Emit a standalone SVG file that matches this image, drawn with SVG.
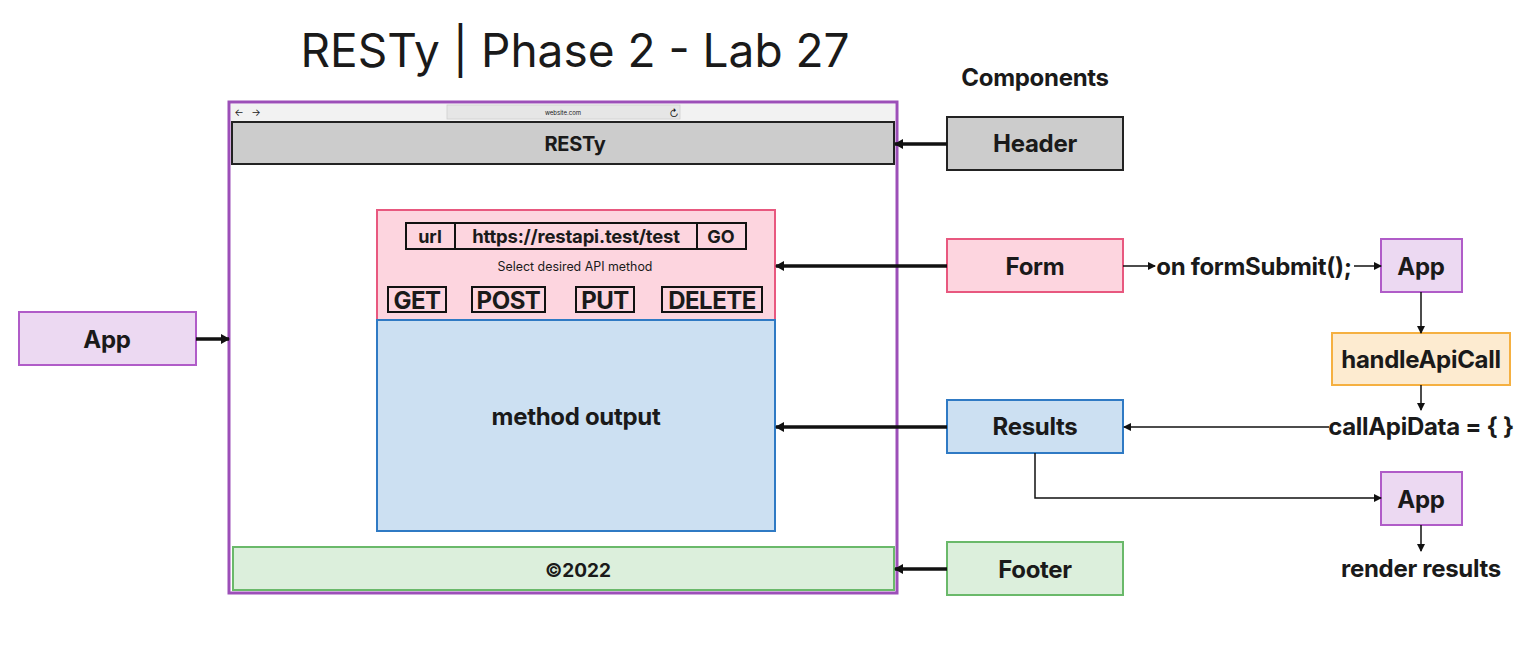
<svg xmlns="http://www.w3.org/2000/svg" width="1531" height="646" viewBox="0 0 1531 646">
<defs>
<style>
text{font-family:Inter,"Liberation Sans",sans-serif;fill:#1a1a1a;text-anchor:middle}
.b{font-weight:700}
.n{font-size:24px;font-weight:700;letter-spacing:-0.3px}
.node{stroke-width:2}
.gray{fill:#cccccc;stroke:#222}
.pink{fill:#fdd5df;stroke:#e8587f}
.blue{fill:#cce0f2;stroke:#2f7ac4}
.green{fill:#dcefdc;stroke:#6ab96a}
.purple{fill:#ecd9f2;stroke:#b05cc8}
.orange{fill:#fdebd0;stroke:#f5b041}
.box{fill:none;stroke:#111;stroke-width:2}
.thick{stroke:#111;stroke-width:3.5;fill:none}
.thin{stroke:#111;stroke-width:1.5;fill:none}
</style>
<marker id="ah" markerWidth="10" markerHeight="10" refX="8" refY="5" orient="auto" markerUnits="userSpaceOnUse"><path d="M0,0 L9,5 L0,10 Z" fill="#111"/></marker>
<marker id="as" markerWidth="9" markerHeight="9" refX="7" refY="4.5" orient="auto" markerUnits="userSpaceOnUse"><path d="M0,0.5 L8,4.5 L0,8.5 Z" fill="#111"/></marker>
</defs>
<rect width="1531" height="646" fill="#fff"/>
<text x="575" y="67" font-size="46">RESTy | Phase 2 - Lab 27</text>
<text x="1035" y="86" class="n" font-size="24">Components</text>

<g id="browser">
<rect x="229" y="102" width="668" height="491" fill="#fff" stroke="#9c4fb8" stroke-width="3"/>
<rect x="231" y="104" width="664" height="18" fill="#f2f2f2"/>
<rect x="447" y="105" width="233" height="14" fill="#e6e6e6" stroke="#cfcfcf" stroke-width="0.8"/>
<text x="563" y="115" font-size="6" fill="#777">website.com</text>
<text x="239" y="116" font-size="10" fill="#999">←</text>
<text x="256" y="116" font-size="10" fill="#999">→</text>
<text x="674" y="117" font-size="10" fill="#999">↻</text>
</g>
<g id="header-bar">
<rect x="232" y="122" width="662" height="42" class="node gray"/>
<text x="575" y="151" font-size="20" class="b" letter-spacing="-0.3">RESTy</text>
</g>
<g id="form-panel">
<rect x="377" y="210" width="398" height="110" class="node pink"/>
<rect x="406" y="223" width="49" height="26" class="box"/>
<rect x="455" y="223" width="242" height="26" class="box"/>
<rect x="697" y="223" width="49" height="26" class="box"/>
<text x="430" y="243" font-size="18" class="b">url</text>
<text x="576" y="243" font-size="18.5" class="b" letter-spacing="-0.2">https://restapi.test/test</text>
<text x="721" y="243" font-size="18" class="b">GO</text>
<text x="575" y="271" font-size="12.4">Select desired API method</text>
<rect x="388" y="287" width="58" height="25" class="box"/>
<rect x="472" y="287" width="73" height="25" class="box"/>
<rect x="576" y="287" width="58" height="25" class="box"/>
<rect x="662" y="287" width="100" height="25" class="box"/>
<text x="417" y="309" font-size="24" class="b" letter-spacing="-0.5">GET</text>
<text x="508.5" y="309" font-size="24" class="b" letter-spacing="-0.5">POST</text>
<text x="605" y="309" font-size="24" class="b" letter-spacing="-0.5">PUT</text>
<text x="712" y="309" font-size="24" class="b" letter-spacing="-0.5">DELETE</text>
</g>
<g id="results-panel">
<rect x="377" y="320" width="398" height="211" class="node blue"/>
<text x="576" y="425" class="n">method output</text>
</g>
<g id="footer-bar">
<rect x="233" y="547" width="661" height="43" class="node green"/>
<text x="578" y="577" font-size="19" class="b">©2022</text>
</g>

<g id="app-left">
<rect x="19" y="312" width="177" height="53" class="node purple"/>
<text x="107" y="348" class="n">App</text>
</g>
<g id="header">
<rect x="947" y="117" width="176" height="53" class="node gray"/>
<text x="1035" y="152" class="n">Header</text>
</g>
<g id="form">
<rect x="947" y="239" width="176" height="53" class="node pink"/>
<text x="1035" y="275" class="n">Form</text>
</g>
<g id="results">
<rect x="947" y="400" width="176" height="53" class="node blue"/>
<text x="1035" y="435" class="n">Results</text>
</g>
<g id="footer">
<rect x="947" y="542" width="176" height="53" class="node green"/>
<text x="1035" y="578" class="n">Footer</text>
</g>
<g id="app-top">
<rect x="1381" y="239" width="81" height="53" class="node purple"/>
<text x="1421" y="275" class="n">App</text>
</g>
<g id="handleApiCall">
<rect x="1332" y="333" width="178" height="52" class="node orange"/>
<text x="1421" y="368" class="n">handleApiCall</text>
</g>
<g id="app-bottom">
<rect x="1381" y="472" width="81" height="53" class="node purple"/>
<text x="1421" y="508" class="n">App</text>
</g>
<g id="labels">
<text x="1254" y="275" class="n">on formSubmit();</text>
<text x="1421" y="435" class="n">callApiData = { }</text>
<text x="1421" y="577" class="n">render results</text>
</g>

<g id="connectors">
<line x1="196" y1="339" x2="229" y2="339" class="thick" marker-end="url(#ah)"/>
<line x1="947" y1="144" x2="895" y2="144" class="thick" marker-end="url(#ah)"/>
<line x1="947" y1="266" x2="776" y2="266" class="thick" marker-end="url(#ah)"/>
<line x1="947" y1="427" x2="776" y2="427" class="thick" marker-end="url(#ah)"/>
<line x1="947" y1="569" x2="895" y2="569" class="thick" marker-end="url(#ah)"/>
<line x1="1123" y1="266" x2="1155" y2="266" class="thin" marker-end="url(#as)"/>
<line x1="1354" y1="266" x2="1381" y2="266" class="thin" marker-end="url(#as)"/>
<line x1="1421" y1="292" x2="1421" y2="333" class="thin" marker-end="url(#as)"/>
<line x1="1421" y1="385" x2="1421" y2="410" class="thin" marker-end="url(#as)"/>
<line x1="1329" y1="427" x2="1124" y2="427" class="thin" marker-end="url(#as)"/>
<polyline points="1035,453 1035,498 1381,498" class="thin" marker-end="url(#as)"/>
<line x1="1421" y1="525" x2="1421" y2="551" class="thin" marker-end="url(#as)"/>
</g>
</svg>
